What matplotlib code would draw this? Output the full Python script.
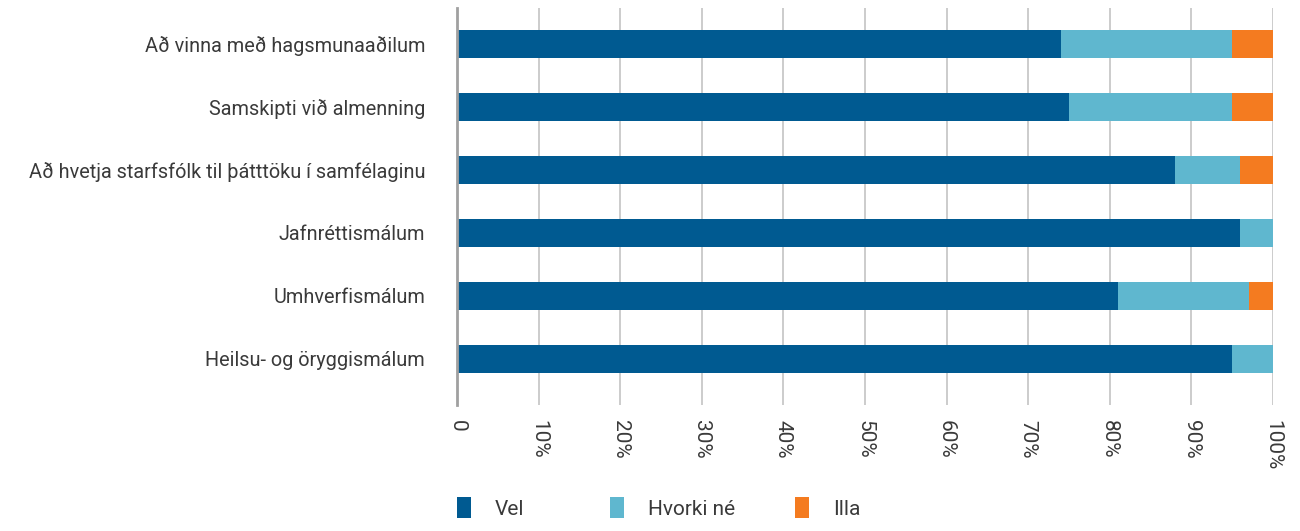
import matplotlib.pyplot as plt
import numpy as np

categories = [
    "Að vinna með hagsmunaaðilum",
    "Samskipti við almenning",
    "Að hvetja starfsfólk til þátttöku í samfélaginu",
    "Jafnréttismálum",
    "Umhverfismálum",
    "Heilsu- og öryggismálum",
]
vel = [74, 75, 88, 96, 81, 95]
hvorki = [21, 20, 8, 4, 16, 5]
illa = [5, 5, 4, 0, 3, 0]
series_names = ["Vel", "Hvorki né", "Illa"]
tick_labels = ["0", "10%", "20%", "30%", "40%", "50%", "60%", "70%", "80%", "90%", "100%"]

colors = ["#005a91", "#5fb7cf", "#f47b20"]
text_color = "#3a3a3a"

plt.rcParams['font.family'] = ['Roboto', 'DejaVu Sans']

fig = plt.figure(figsize=(13, 5.31), dpi=100)
ax = fig.add_axes([457 / 1300, 1 - 405 / 531, (1273 - 457) / 1300, (405 - 8) / 531])

y = np.arange(len(categories))
left = np.zeros(len(categories))
bars = []
for vals, name, c in zip([vel, hvorki, illa], series_names, colors):
    b = ax.barh(y, vals, left=left, height=0.44, color=c, label=name, zorder=3)
    bars.append(b)
    left += np.array(vals)

ax.set_xlim(0, 100)
ax.set_ylim(5.73, -0.57)
ax.set_yticks(y)
ax.set_yticklabels(categories, fontsize=14.3, color=text_color)
ax.set_xticks(np.arange(0, 101, 10))
ax.set_xticklabels(tick_labels, rotation=270, fontsize=15, color=text_color, va='top', ha='center')
ax.tick_params(axis='y', length=0, pad=23)
ax.tick_params(axis='x', length=0, pad=11)
ax.grid(axis='x', color='#c4c4c4', linewidth=1.2, zorder=0)
for s in ['top', 'right', 'bottom']:
    ax.spines[s].set_visible(False)
ax.spines['left'].set_color('#a0a0a0')
ax.spines['left'].set_linewidth(2)
ax.spines['left'].set_zorder(4)

# legend entries sit at fixed positions along the bottom
legend_x = [457, 610, 795]
for b, name, lx in zip(bars, series_names, legend_x):
    leg = fig.legend([b], [name], loc='upper left', bbox_to_anchor=(lx / 1300, 1 - 497 / 531),
                     frameon=False, fontsize=15, handlelength=0.67, handleheight=1.2,
                     handletextpad=1.15, borderpad=0, borderaxespad=0, labelcolor=text_color)

fig.savefig('out.png', dpi=100)
